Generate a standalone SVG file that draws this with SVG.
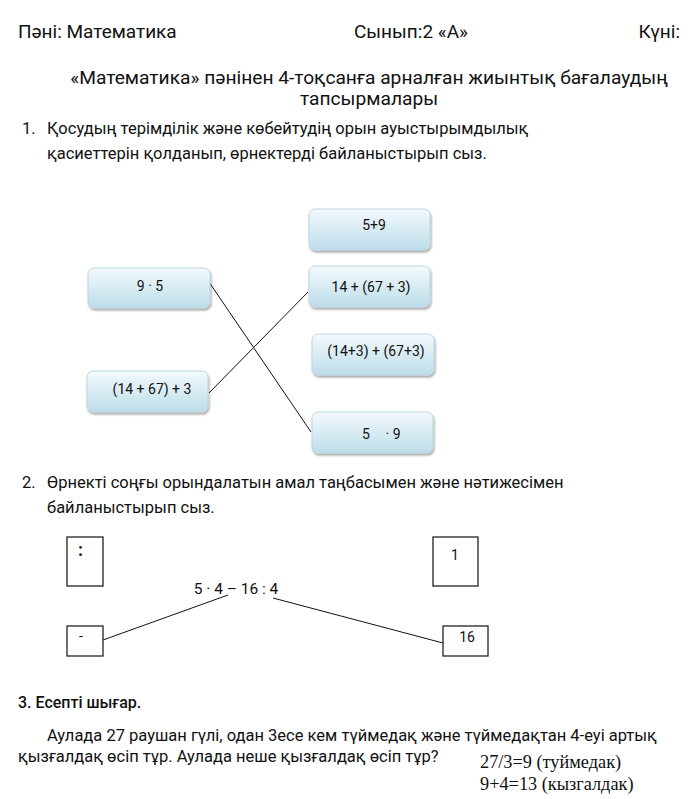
<svg xmlns="http://www.w3.org/2000/svg" width="693" height="799" viewBox="0 0 693 799">
<defs>
<linearGradient id="g" x1="0" y1="0" x2="0" y2="1">
<stop offset="0" stop-color="#f4fafd"/>
<stop offset="1" stop-color="#bcdde9"/>
</linearGradient>
<filter id="sh" x="-10%" y="-20%" width="120%" height="150%">
<feDropShadow dx="1" dy="2" stdDeviation="1.2" flood-color="#000" flood-opacity="0.35"/>
</filter>
<style>
text{font-family:Roboto,"Liberation Sans",sans-serif;fill:#111}
.h{font-size:19px}
.t{font-size:19.2px}
.b{font-size:16.5px}
.n{font-size:14px;text-anchor:middle}
.box{fill:url(#g);stroke:#bcd6e0;stroke-width:1;filter:url(#sh)}
.sq{fill:#fff;stroke:#222;stroke-width:1.3}
.ln{stroke:#111;stroke-width:1;fill:none}
.s{font-family:"Liberation Serif",serif;font-size:18.3px}
</style>
</defs>
<rect width="693" height="799" fill="#fff"/>
<g id="header">
<text class="h" x="18" y="38">Пәні: Математика</text>
<text class="h" x="354" y="38">Сынып:2 «А»</text>
<text class="h" x="680" y="38" text-anchor="end">Күні:</text>
<text class="t" x="369" y="84" text-anchor="middle">«Математика» пәнінен 4-тоқсанға арналған жиынтық бағалаудың</text>
<text class="t" x="369" y="105" text-anchor="middle">тапсырмалары</text>
<text class="b" x="22" y="134">1.</text>
<text class="b" x="47" y="134">Қосудың терімділік және көбейтудің орын ауыстырымдылық</text>
<text class="b" x="47" y="159">қасиеттерін қолданып, өрнектерді байланыстырып сыз.</text>
</g>
<g id="connectors">
<line class="ln" x1="209" y1="282" x2="311" y2="432"/>
<line class="ln" x1="209" y1="393" x2="308" y2="292"/>
<line class="ln" x1="103" y1="640" x2="228" y2="595"/>
<line class="ln" x1="273" y1="598" x2="443" y2="643"/>
</g>
<g id="n-5p9"><rect class="box" x="309" y="209" width="121" height="41" rx="6"/><text class="n" x="374" y="230">5+9</text></g>
<g id="n-9x5"><rect class="box" x="88" y="268" width="122" height="40" rx="6"/><text class="n" x="150" y="291">9 · 5</text></g>
<g id="n-14-67-3"><rect class="box" x="309" y="266" width="121" height="41" rx="6"/><text class="n" x="371" y="292">14 + (67 + 3)</text></g>
<g id="n-14p3-67p3"><rect class="box" x="312" y="334" width="122" height="41" rx="6"/><text class="n" x="376" y="356">(14+3) + (67+3)</text></g>
<g id="n-14p67-3"><rect class="box" x="87" y="371" width="121" height="41" rx="6"/><text class="n" x="152" y="394">(14 + 67) + 3</text></g>
<g id="n-5x9"><rect class="box" x="312" y="412" width="121" height="41" rx="6"/><text class="n" x="366" y="439">5</text><text class="n" x="393" y="439">· 9</text></g>
<g id="task2">
<text class="b" x="22" y="488">2.</text>
<text class="b" x="47" y="488">Өрнекті соңғы орындалатын амал таңбасымен және нәтижесімен</text>
<text class="b" x="47" y="513">байланыстырып сыз.</text>
</g>
<g id="n-colon"><rect class="sq" x="67" y="537" width="36" height="49"/><text x="78" y="556" style="font-size:18px;font-weight:bold">:</text></g>
<g id="n-1"><rect class="sq" x="433" y="537" width="45" height="49"/><text class="n" x="455" y="560">1</text></g>
<g id="n-expr"><text x="236" y="594" style="font-size:15.5px;text-anchor:middle">5 · 4 – 16 : 4</text></g>
<g id="n-minus"><rect class="sq" x="67" y="626" width="36" height="30"/><text class="n" x="81" y="641">-</text></g>
<g id="n-16"><rect class="sq" x="443" y="626" width="45" height="30"/><text class="n" x="467" y="642">16</text></g>
<g id="task3">
<text x="18" y="708" style="font-size:16px;font-weight:500">3. Есепті шығар.</text>
<text class="b" x="47" y="741">Аулада 27 раушан гүлі, одан 3есе кем түймедақ және түймедақтан 4-еуі артық</text>
<text class="b" x="18" y="762">қызғалдақ өсіп тұр. Аулада неше қызғалдақ өсіп тұр?</text>
<text class="s" x="480" y="768">27/3=9 (туймедак)</text>
<text class="s" x="480" y="790">9+4=13 (кызгалдак)</text>
</g>
</svg>
